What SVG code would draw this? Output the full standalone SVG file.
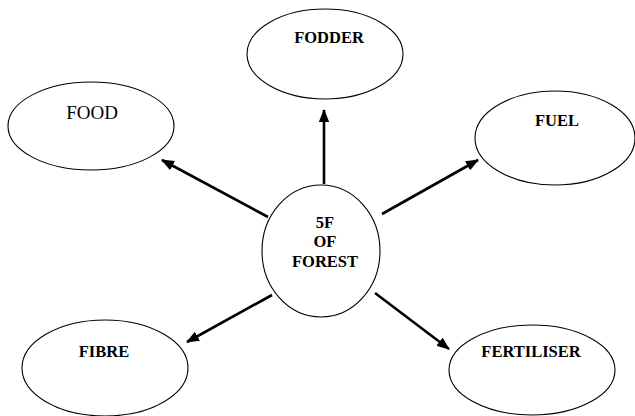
<svg xmlns="http://www.w3.org/2000/svg" width="635" height="416" viewBox="0 0 635 416">
<style>
.n{fill:#fff;stroke:#000;stroke-width:1.1}
.t{font-family:"Liberation Serif",serif;font-size:16.5px;font-weight:bold;text-anchor:middle;fill:#000}
.c{stroke:#000;stroke-width:2.6;fill:none;marker-end:url(#ah)}
</style>
<defs>
<marker id="ah" markerWidth="5" markerHeight="4" refX="4.6" refY="2" orient="auto" markerUnits="strokeWidth">
<path d="M0,0 L5,2 L0,4 Z" fill="#000"/>
</marker>
</defs>
<g id="connectors">
<line class="c" x1="324" y1="184" x2="324" y2="110"/>
<line class="c" x1="268" y1="217" x2="162" y2="160"/>
<line class="c" x1="382" y1="214" x2="478" y2="160"/>
<line class="c" x1="272" y1="295" x2="187" y2="342"/>
<line class="c" x1="375" y1="293" x2="449" y2="349"/>
</g>
<g id="fodder"><ellipse class="n" cx="325" cy="54" rx="78" ry="45"/><text class="t" x="329" y="43">FODDER</text></g>
<g id="food"><ellipse class="n" cx="91" cy="126" rx="83" ry="44"/><text class="t" x="92" y="119" style="font-weight:normal;font-size:19px">FOOD</text></g>
<g id="fuel"><ellipse class="n" cx="555" cy="138" rx="80" ry="47"/><text class="t" x="557" y="126">FUEL</text></g>
<g id="center"><ellipse class="n" cx="321" cy="251" rx="59" ry="66"/><text class="t" x="325" y="228">5F</text><text class="t" x="325" y="247">OF</text><text class="t" x="325" y="267">FOREST</text></g>
<g id="fibre"><ellipse class="n" cx="105" cy="368" rx="83" ry="48"/><text class="t" x="104" y="357">FIBRE</text></g>
<g id="fertiliser"><ellipse class="n" cx="532" cy="370" rx="83" ry="45"/><text class="t" x="531" y="357">FERTILISER</text></g>
</svg>
